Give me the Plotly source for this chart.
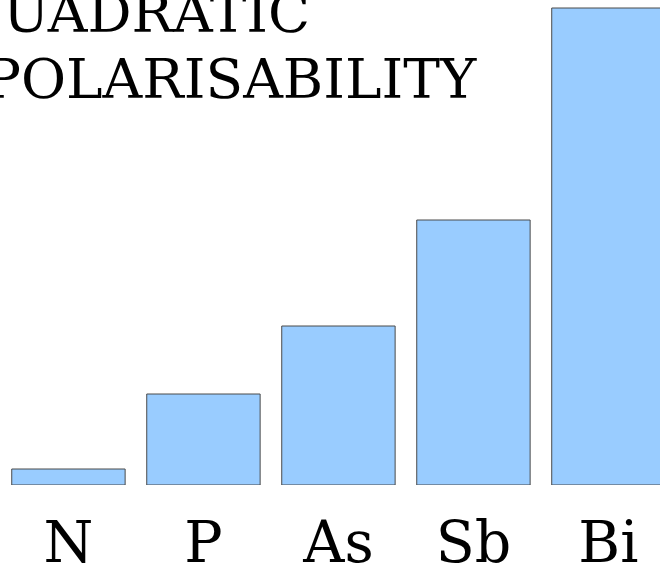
import plotly.graph_objects as go

elements = ["N", "P", "As", "Sb", "Bi"]
polarisability = [16, 91, 159, 265, 477]  # relative units

title_lines = ["QUADRATIC", "POLARISABILITY"]

FONT = "DejaVu Serif"

fig = go.Figure(
    go.Bar(
        x=elements,
        y=polarisability,
        marker=dict(color="#99ccff", line=dict(color="#4a4a4a", width=1)),
        width=0.84,
    )
)

fig.update_layout(
    width=660,
    height=571,
    margin=dict(l=0, r=0, t=0, b=86),
    paper_bgcolor="white",
    plot_bgcolor="white",
    showlegend=False,
    xaxis=dict(
        range=[-0.507, 4.382],
        showgrid=False,
        zeroline=False,
        showline=False,
        ticks="",
        automargin=False,
        tickfont=dict(family=FONT, size=57, color="black"),
        ticklabelstandoff=19,
    ),
    yaxis=dict(
        range=[0, 485],
        visible=False,
        automargin=False,
    ),
)

fig.add_annotation(
    text=title_lines[0], xref="paper", yref="paper", x=-44 / 660, y=(485 - 47) / 485,
    xanchor="left", yanchor="bottom", showarrow=False,
    font=dict(family=FONT, size=55, color="black"),
)
fig.add_annotation(
    text=title_lines[1], xref="paper", yref="paper", x=-18 / 660, y=(485 - 113) / 485,
    xanchor="left", yanchor="bottom", showarrow=False,
    font=dict(family=FONT, size=55, color="black"),
)

fig.write_html(
    "out.html",
    config={"displayModeBar": False},
    post_script="document.body.style.margin='0';",
)
